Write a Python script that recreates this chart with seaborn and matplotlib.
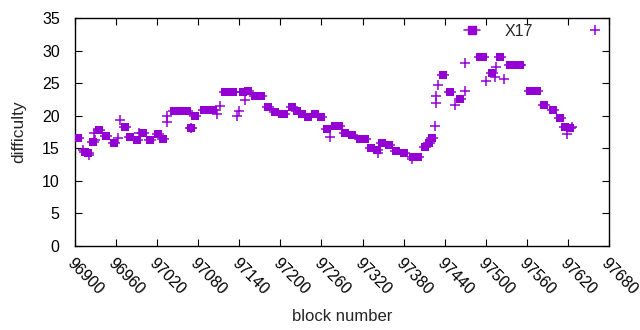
import matplotlib
matplotlib.use('Agg')
import matplotlib.pyplot as plt
from matplotlib.lines import Line2D
import numpy as np
import seaborn as sns

sns.set_theme(style='ticks')
plt.rcParams['font.family'] = ['Liberation Sans', 'DejaVu Sans']

# square-marker series
sq_block = [96905, 96915, 96919, 96926, 96935, 96946, 96957, 96973, 96981, 96990,
            97000, 97010, 97021, 97029, 97044, 97048, 97052, 97056, 97060, 97063,
            97070, 97075, 97088, 97092, 97096, 97100, 97102, 97119, 97123, 97127,
            97131, 97145, 97153, 97163, 97166, 97169, 97172, 97182, 97192, 97202,
            97206, 97217, 97224, 97231, 97241, 97251, 97260, 97268, 97280, 97285,
            97294, 97304, 97316, 97320, 97323, 97333, 97341, 97348, 97358, 97369,
            97381, 97394, 97398, 97401, 97411, 97417, 97422, 97438, 97448, 97462,
            97491, 97496, 97509, 97521, 97536, 97540, 97544, 97548, 97550, 97565,
            97570, 97575, 97585, 97598, 97609, 97616, 97623]
sq_diff = [16.6, 14.5, 14.2, 15.9, 17.8, 16.9, 15.8, 18.2, 16.7, 16.3,
           17.3, 16.3, 17.2, 16.4, 20.7, 20.7, 20.7, 20.7, 20.7, 20.7,
           18.1, 20.0, 20.9, 20.9, 20.9, 20.9, 20.9, 23.6, 23.6, 23.6,
           23.6, 23.6, 23.8, 23.0, 23.0, 23.0, 23.0, 21.3, 20.6, 20.2,
           20.2, 21.4, 20.8, 20.2, 19.8, 20.3, 19.8, 17.9, 18.4, 18.4,
           17.4, 17.0, 16.5, 16.5, 16.5, 15.0, 14.7, 15.8, 15.5, 14.6,
           14.3, 13.6, 13.6, 13.6, 15.2, 15.8, 16.6, 26.2, 23.6, 22.6,
           29.0, 29.0, 26.6, 29.0, 27.8, 27.8, 27.8, 27.8, 27.8, 23.8,
           23.8, 23.8, 21.6, 20.9, 19.6, 18.3, 18.1]

# plus-marker series (X17)
plus_block = [96912, 96920, 96929, 96928, 96963, 96966, 96994, 97034, 97035, 97069,
              97108, 97112, 97137, 97139, 97148, 97272, 97343, 97392, 97426, 97427,
              97428, 97430, 97455, 97469, 97470, 97501, 97513, 97515, 97526, 97619,
              97626]
plus_diff = [14.7, 14.0, 16.3, 17.4, 16.6, 19.3, 17.3, 19.1, 19.9, 18.1,
             20.2, 21.5, 20.0, 20.7, 22.4, 16.8, 14.2, 13.4, 18.4, 22.0,
             23.0, 24.7, 21.6, 23.8, 28.1, 25.4, 26.0, 27.5, 25.6, 17.2,
             18.3]

x_ticks = [96900, 96960, 97020, 97080, 97140, 97200, 97260, 97320, 97380,
           97440, 97500, 97560, 97620, 97680]
y_ticks = [0, 5, 10, 15, 20, 25, 30, 35]
series_label = 'X17'
color = '#9400D3'

fig = plt.figure(figsize=(6.4, 3.3), dpi=100)
ax = fig.add_axes([75/640, 1-246/330, 534/640, 228/330])

sns.scatterplot(x=sq_block, y=sq_diff, marker='_', s=80, linewidth=1.1,
                color=color, ax=ax, zorder=2)
sns.scatterplot(x=sq_block, y=sq_diff, marker='s', s=30, linewidth=0,
                color=color, ax=ax, zorder=3)
sns.scatterplot(x=plus_block, y=plus_diff, marker='+', s=50, linewidth=1.1,
                color=color, ax=ax, zorder=3)

ax.set_xlim(96900, 97680)
ax.set_ylim(0, 35)
ax.set_xticks(x_ticks)
ax.set_yticks(y_ticks)
ax.set_xticklabels([str(t) for t in x_ticks])
ax.tick_params(direction='in', length=5, width=0.8, top=True, right=True,
               labelsize=11.5, colors='black')
ax.tick_params(axis='x', pad=7)
ax.tick_params(axis='y', pad=11)
plt.setp(ax.get_xticklabels(), rotation=-45, ha='left', va='top',
         rotation_mode='anchor')
for sp in ax.spines.values():
    sp.set_linewidth(1)
    sp.set_color('black')

ax.set_xlabel('block number', fontsize=12, labelpad=8)
ax.set_ylabel('difficulty', fontsize=12.5, labelpad=11)

fs = 11.5
px = fs * 100 / 72
handles = [Line2D([], [], color=color, marker='s', markersize=5.5, linestyle='-', lw=1.1),
           Line2D([], [], color=color, marker='+', markersize=7, linestyle='none', mew=1.1)]
ax.legend(handles, ['', series_label], loc='upper right', ncol=2, markerfirst=False,
          frameon=False, fontsize=fs, handlelength=16/px, handletextpad=54/px,
          columnspacing=25/px, borderpad=0, borderaxespad=6/px)

fig.savefig('out.png', dpi=100)
